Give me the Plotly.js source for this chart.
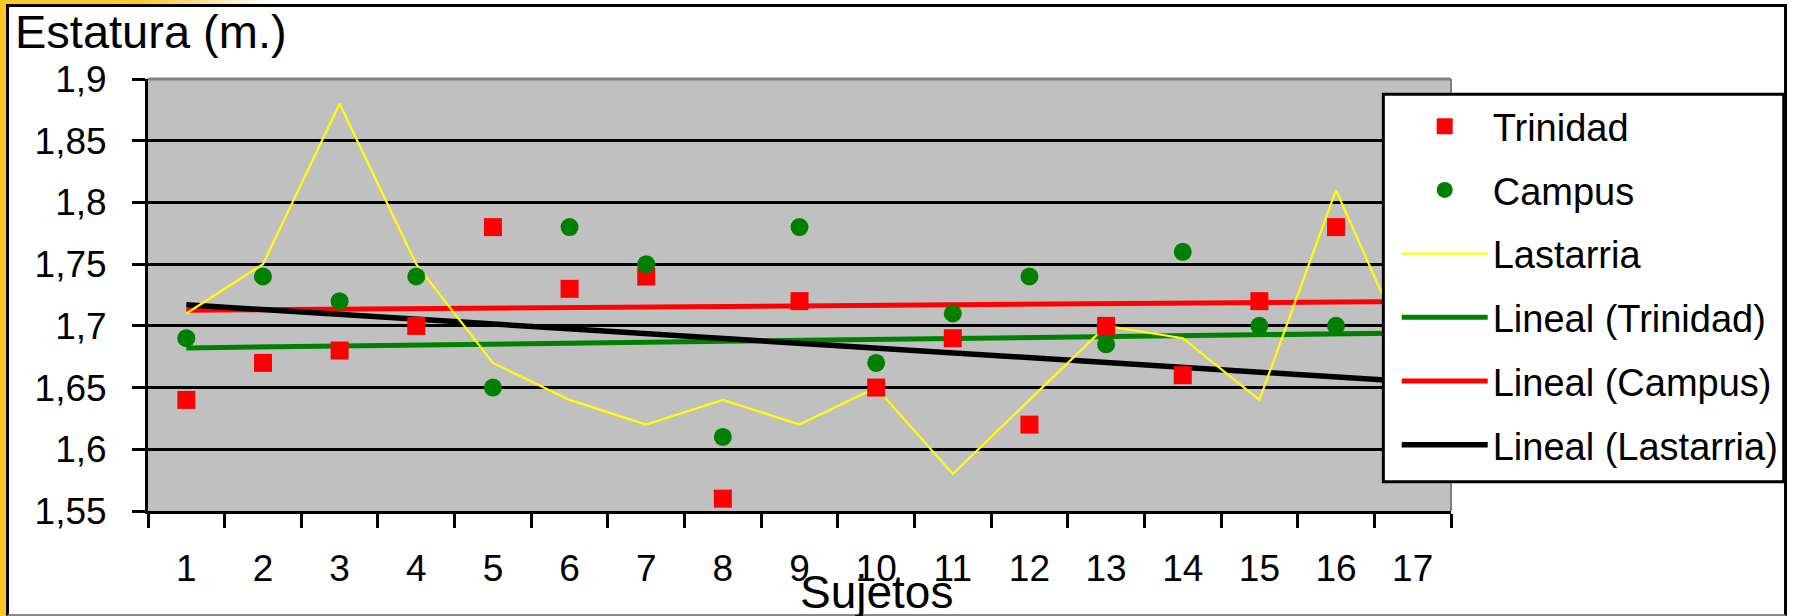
<!DOCTYPE html>
<html>
<head>
<meta charset="utf-8">
<script src="https://cdn.plot.ly/plotly-3.0.1.min.js"></script>
<style>
  html, body { margin: 0; padding: 0; width: 1795px; height: 616px; overflow: hidden; background: #ffffff; }
  #leftStrip { position: absolute; left: 0; top: 0; width: 6px; height: 616px; background: #FFC82A; }
  #topStrip { position: absolute; left: 0; top: 0; width: 1795px; height: 4px;
    background: linear-gradient(to right, #FFC82A 0px, #FFC82A 140px, #ffffff 270px); }
  #frame { position: absolute; left: 6px; top: 4px; width: 1781px; height: 612px; box-sizing: border-box;
    background: #ffffff; border-left: 3.5px solid #000; border-top: 3px solid #000; border-right: 3px solid #000; border-bottom: 2px solid #888; }
  #chart { position: absolute; left: 0; top: 0; width: 1795px; height: 616px; }
</style>
</head>
<body>
<div id="leftStrip"></div>
<div id="topStrip"></div>
<div id="frame"></div>
<div id="chart"></div>
<script>
// ---- data ----
const subjects = ['1','2','3','4','5','6','7','8','9','10','11','12','13','14','15','16','17'];
const trinidad  = [1.64, 1.67, 1.68, 1.70, 1.78, 1.73, 1.74, 1.56, 1.72, 1.65, 1.69, 1.62, 1.70, 1.66, 1.72, 1.78, 1.66];
const campus    = [1.69, 1.74, 1.72, 1.74, 1.65, 1.78, 1.75, 1.61, 1.78, 1.67, 1.71, 1.74, 1.685, 1.76, 1.70, 1.70, 1.75];
const lastarria = [1.71, 1.75, 1.88, 1.75, 1.67, 1.64, 1.62, 1.64, 1.62, 1.65, 1.58, 1.64, 1.70, 1.69, 1.64, 1.81, 1.67];
const yTickVals = [1.55, 1.6, 1.65, 1.7, 1.75, 1.8, 1.85, 1.9];
const yTickText = ['1,55', '1,6', '1,65', '1,7', '1,75', '1,8', '1,85', '1,9'];
const seriesNames = ['Trinidad', 'Campus', 'Lastarria'];
const trendNames = ['Lineal (Trinidad)', 'Lineal (Campus)', 'Lineal (Lastarria)'];

// least-squares linear trend (Excel "Lineal") over subject index 1..n
function linearTrend(vals) {
  const n = vals.length;
  let sx = 0, sy = 0, sxx = 0, sxy = 0;
  vals.forEach((v, i) => { const x = i + 1; sx += x; sy += v; sxx += x * x; sxy += x * v; });
  const b = (n * sxy - sx * sy) / (n * sxx - sx * sx);
  const a = (sy - b * sx) / n;
  return { x: [subjects[0], subjects[n - 1]], y: [a + b * 1, a + b * n] };
}

// ---- layout geometry (pixels) ----
const W = 1795, H = 616;
const L = 148, R = 1452, T = 79, B = 511;
const px2x = p => (p - L) / (R - L);
const px2y = p => (B - p) / (B - T);

const FONT = 'Liberation Sans, Arial, sans-serif';

const tT = linearTrend(trinidad), tC = linearTrend(campus), tL = linearTrend(lastarria);

const traces = [
  { type: 'scatter', mode: 'lines', name: trendNames[0], x: tT.x, y: tT.y,
    line: { color: '#008000', width: 5 }, legendgroup: 'g4', legendrank: 4, hoverinfo: 'skip' },
  { type: 'scatter', mode: 'lines', name: trendNames[1], x: tC.x, y: tC.y,
    line: { color: '#FF0000', width: 5 }, legendgroup: 'g5', legendrank: 5, hoverinfo: 'skip' },
  { type: 'scatter', mode: 'lines', name: trendNames[2], x: tL.x, y: tL.y,
    line: { color: '#000000', width: 5.5 }, legendgroup: 'g6', legendrank: 6, hoverinfo: 'skip' },
  { type: 'scatter', mode: 'lines', name: seriesNames[2], x: subjects, y: lastarria,
    line: { color: '#FFFF00', width: 2.2 }, legendgroup: 'g3', legendrank: 3 },
  { type: 'scatter', mode: 'markers', name: seriesNames[0], x: subjects, y: trinidad,
    marker: { symbol: 'square', size: 18, color: '#FF0000' }, legendgroup: 'g1', legendrank: 1 },
  { type: 'scatter', mode: 'markers', name: seriesNames[1], x: subjects, y: campus,
    marker: { symbol: 'circle', size: 18, color: '#008000' }, legendgroup: 'g2', legendrank: 2 }
];

const layout = {
  width: W, height: H,
  margin: { l: L, r: W - R, t: T, b: H - B, pad: 0 },
  paper_bgcolor: 'rgba(0,0,0,0)',
  plot_bgcolor: '#C0C0C0',
  font: { family: FONT, color: '#000000', size: 37 },
  showlegend: true,
  xaxis: {
    type: 'category', categoryorder: 'array', categoryarray: subjects,
    range: [-0.5, subjects.length - 0.5], autorange: false,
    tickson: 'boundaries', ticks: 'outside', ticklen: 14, tickwidth: 3, tickcolor: '#000',
    showline: true, linecolor: '#000', linewidth: 3, showgrid: false, zeroline: false,
    tickfont: { family: FONT, size: 37, color: '#000' }, ticklabelstandoff: 23, fixedrange: true
  },
  yaxis: {
    range: [1.55, 1.9], autorange: false, tickmode: 'array', tickvals: yTickVals, ticktext: yTickText,
    ticks: 'outside', ticklen: 13, tickwidth: 3, tickcolor: '#000',
    showline: true, linecolor: '#000', linewidth: 3,
    showgrid: true, gridcolor: '#000', gridwidth: 3, zeroline: false,
    tickfont: { family: FONT, size: 37, color: '#000' }, ticklabelstandoff: 18, fixedrange: true
  },
  legend: {
    x: px2x(1396.7), xanchor: 'left', y: px2y(95), yanchor: 'top',
    bgcolor: 'rgba(0,0,0,0)', borderwidth: 0,
    font: { family: FONT, size: 38, color: '#000' },
    itemwidth: 86, tracegroupgap: 11.3, traceorder: 'grouped'
  },
  shapes: [
    // gray top & right plot-area border
    { type: 'line', xref: 'paper', yref: 'paper', x0: 0, x1: 1, y0: 1, y1: 1, layer: 'above',
      line: { color: '#808080', width: 3 } },
    { type: 'line', xref: 'paper', yref: 'paper', x0: 1, x1: 1, y0: 0, y1: 1, layer: 'above',
      line: { color: '#808080', width: 2 } },
    // legend box
    { type: 'rect', xref: 'paper', yref: 'paper', x0: px2x(1384.3), x1: px2x(1785), y0: px2y(481.7), y1: px2y(94.3),
      layer: 'above', fillcolor: '#FFFFFF', line: { color: '#000000', width: 3 } }
  ],
  annotations: [
    { text: 'Estatura (m.)', xref: 'paper', yref: 'paper', x: px2x(13), y: px2y(31.5),
      xanchor: 'left', yanchor: 'middle', showarrow: false, font: { family: FONT, size: 47, color: '#000' } },
    { text: 'Sujetos', xref: 'paper', yref: 'paper', x: px2x(877), y: px2y(592),
      xanchor: 'center', yanchor: 'middle', showarrow: false, font: { family: FONT, size: 46, color: '#000' } }
  ]
};

Plotly.newPlot('chart', traces, layout, { displayModeBar: false, staticPlot: true });
</script>
</body>
</html>
